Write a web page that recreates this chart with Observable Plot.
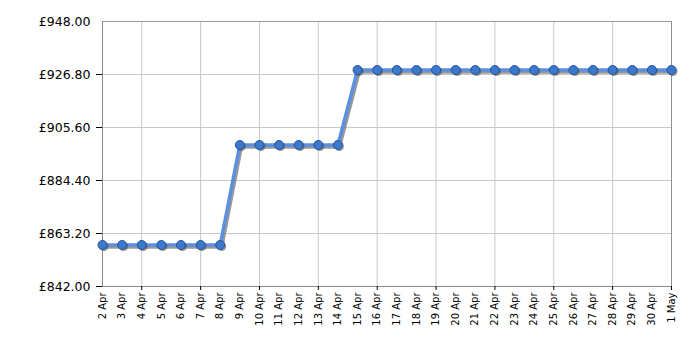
<!DOCTYPE html>
<html>
<head>
<meta charset="utf-8">
<script src="https://cdn.jsdelivr.net/npm/d3@7"></script>
<script src="https://cdn.jsdelivr.net/npm/@observablehq/plot@0.6"></script>
<style>
  html, body { margin: 0; padding: 0; background: #fff; }
</style>
</head>
<body>
<div id="chart"></div>
<script>
const dates = [
  "2024-04-02","2024-04-03","2024-04-04","2024-04-05","2024-04-06","2024-04-07","2024-04-08",
  "2024-04-09","2024-04-10","2024-04-11","2024-04-12","2024-04-13","2024-04-14",
  "2024-04-15","2024-04-16","2024-04-17","2024-04-18","2024-04-19","2024-04-20","2024-04-21",
  "2024-04-22","2024-04-23","2024-04-24","2024-04-25","2024-04-26","2024-04-27","2024-04-28",
  "2024-04-29","2024-04-30","2024-05-01"
];
const prices = [
  858.6, 858.6, 858.6, 858.6, 858.6, 858.6, 858.6,
  898.6, 898.6, 898.6, 898.6, 898.6, 898.6,
  928.6, 928.6, 928.6, 928.6, 928.6, 928.6, 928.6,
  928.6, 928.6, 928.6, 928.6, 928.6, 928.6, 928.6,
  928.6, 928.6, 928.6
];
const gridDates = ["2024-04-04","2024-04-07","2024-04-10","2024-04-13","2024-04-16","2024-04-19","2024-04-22","2024-04-25","2024-04-28","2024-05-01"];
const yTicks = [842.00, 863.20, 884.40, 905.60, 926.80, 948.00];

const parse = d3.utcParse("%Y-%m-%d");
const data = dates.map((d, i) => ({date: parse(d), price: prices[i]}));
const allDates = dates.map(parse);
const grid = gridDates.map(parse);
const fmtDate = d3.utcFormat("%-d %b");
const fmtPrice = v => "£" + d3.format(".2f")(v);

const chart = Plot.plot({
  width: 700,
  height: 350,
  marginLeft: 102,
  marginRight: 29,
  marginTop: 21,
  marginBottom: 64,
  style: {fontFamily: "'DejaVu Sans', Verdana, sans-serif", background: "#fff", color: "#000"},
  x: {type: "utc", domain: [allDates[0], allDates[allDates.length - 1]], label: null},
  y: {domain: [842, 948], label: null},
  marks: [
    Plot.gridX(grid, {stroke: "#c8c8c8", strokeOpacity: 1}),
    Plot.gridY(yTicks, {stroke: "#c8c8c8", strokeOpacity: 1}),
    Plot.ruleY([948], {stroke: "#a0a0a0"}),
    Plot.ruleX([allDates[allDates.length - 1]], {stroke: "#909090"}),
    Plot.ruleX([allDates[0]], {stroke: "#888"}),
    Plot.ruleY([842], {stroke: "#888"}),
    Plot.axisY(yTicks, {tickSize: 0, tickPadding: 12, tickFormat: fmtPrice, fontSize: 12.5, label: null}),
    Plot.axisY(yTicks.slice(0, 5), {tickSize: 6, tickFormat: () => "", stroke: "#000", label: null}),
    Plot.axisX(allDates, {tickSize: 0, tickPadding: 6, tickRotate: -90, fontSize: 10, tickFormat: fmtDate, label: null}),
    Plot.axisX(grid, {tickSize: 4, tickFormat: () => "", stroke: "#000", label: null}),
    Plot.line(data, {x: "date", y: "price", stroke: "#777", strokeOpacity: 0.75, strokeWidth: 3.5, dx: 1.5, dy: 2}),
    Plot.line(data, {x: "date", y: "price", stroke: "#5b90e0", strokeWidth: 3.5}),
    Plot.dot(data, {x: "date", y: "price", r: 4.5, fill: "#555", fillOpacity: 0.6, dx: 1.5, dy: 1.5}),
    Plot.dot(data, {x: "date", y: "price", r: 4.5, fill: "#3c78cc", stroke: "#24549a", strokeWidth: 1})
  ]
});
document.getElementById("chart").appendChild(chart);
</script>
</body>
</html>
